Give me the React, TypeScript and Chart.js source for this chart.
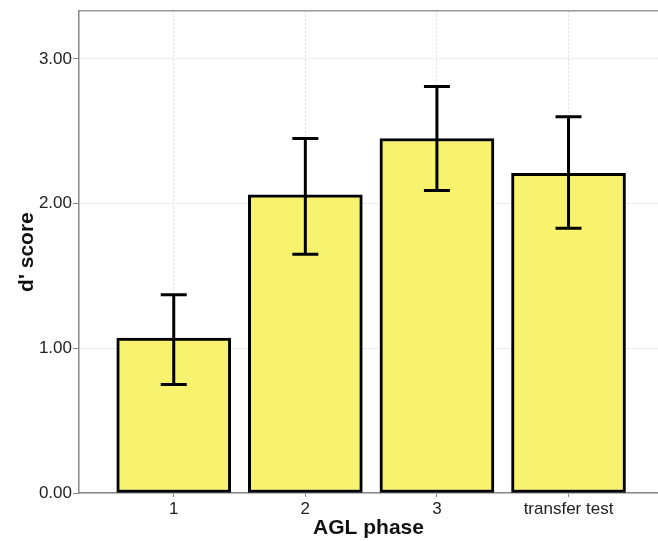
import React, { useEffect, useRef } from "react";
import { Chart, registerables } from "chart.js";

Chart.register(...registerables);

const categories = ["1", "2", "3", "transfer test"];
const dScores = [1.07, 2.06, 2.45, 2.21];
const errLow = [0.75, 1.65, 2.09, 1.83];
const errHigh = [1.37, 2.45, 2.81, 2.6];
const yTickValues = [0, 1, 2, 3];

const FONT = "'Liberation Sans', Arial, Helvetica, sans-serif";

const errorBarPlugin = {
  id: "errorBars",
  afterDatasetsDraw(chart: any) {
    const meta = chart.getDatasetMeta(0);
    const yScale = chart.scales.y;
    const ctx = chart.ctx;
    ctx.save();
    ctx.strokeStyle = "#000";
    ctx.lineWidth = 3;
    meta.data.forEach((bar: any, i: number) => {
      const x = bar.x;
      const yl = yScale.getPixelForValue(errLow[i]);
      const yh = yScale.getPixelForValue(errHigh[i]);
      const cap = 13;
      ctx.beginPath();
      ctx.moveTo(x, yl);
      ctx.lineTo(x, yh);
      ctx.moveTo(x - cap, yh);
      ctx.lineTo(x + cap, yh);
      ctx.moveTo(x - cap, yl);
      ctx.lineTo(x + cap, yl);
      ctx.stroke();
    });
    ctx.restore();
  },
};

export default function App() {
  const ref = useRef<HTMLCanvasElement | null>(null);
  useEffect(() => {
    document.body.style.margin = "0";
    const chart = new Chart(ref.current as HTMLCanvasElement, {
      type: "bar",
      data: {
        datasets: [
          {
            data: dScores.map((v, i) => ({ x: i, y: v })),
            backgroundColor: "#f8f36e",
            borderColor: "#000",
            borderWidth: 3,
            borderSkipped: false,
            barThickness: 114,
          },
        ],
      },
      options: {
        animation: false,
        responsive: true,
        maintainAspectRatio: false,
        layout: { padding: { top: 11, right: 0, left: 0, bottom: 0 } },
        plugins: { legend: { display: false }, tooltip: { enabled: false } },
        scales: {
          x: {
            type: "linear",
            min: -0.72,
            max: 3.68,
            offset: false,
            afterBuildTicks: (s: any) => {
              s.ticks = categories.map((_, i) => ({ value: i }));
            },
            afterFit: (s: any) => {
              s.height = 48;
            },
            ticks: {
              callback: (v: any) => categories[v] ?? "",
              color: "#222",
              font: { family: FONT, size: 17 },
              padding: 2,
              maxRotation: 0,
              autoSkip: false,
            },
            grid: {
              offset: false,
              color: "#dcdcdc",
              lineWidth: 1,
              tickLength: 4,
              tickColor: "#888",
            },
            border: { color: "#888", width: 1.5, dash: [2, 2] },
            title: {
              display: true,
              text: "AGL phase",
              color: "#111",
              font: { family: FONT, size: 21, weight: "bold" },
              padding: { top: 0, bottom: 0 },
            },
          },
          top: {
            type: "linear",
            position: "top",
            min: -0.72,
            max: 3.68,
            offset: false,
            ticks: { display: false },
            grid: { display: false, drawTicks: false },
            border: { display: true, color: "#999", width: 1.5 },
            afterFit: (s: any) => {
              s.height = 0;
            },
          },
          y: {
            min: 0,
            max: 3.33,
            afterBuildTicks: (s: any) => {
              s.ticks = yTickValues.map((v) => ({ value: v }));
            },
            afterFit: (s: any) => {
              s.width = 79;
            },
            ticks: {
              callback: (v: any) => Number(v).toFixed(2),
              color: "#222",
              font: { family: FONT, size: 17 },
              padding: 1,
            },
            grid: {
              color: "#dcdcdc",
              lineWidth: 1,
              tickLength: 6,
              tickColor: "#888",
            },
            border: { color: "#888", width: 1.5, dash: [2, 2] },
            title: {
              display: true,
              text: "d' score",
              color: "#111",
              font: { family: FONT, size: 21, weight: "bold" },
              padding: { top: 15, bottom: 0 },
            },
          },
        },
      },
      plugins: [errorBarPlugin],
    });
    return () => chart.destroy();
  }, []);
  return (
    <div style={{ position: "fixed", left: 0, top: 0, width: 658, height: 541 }}>
      <canvas ref={ref} />
    </div>
  );
}
